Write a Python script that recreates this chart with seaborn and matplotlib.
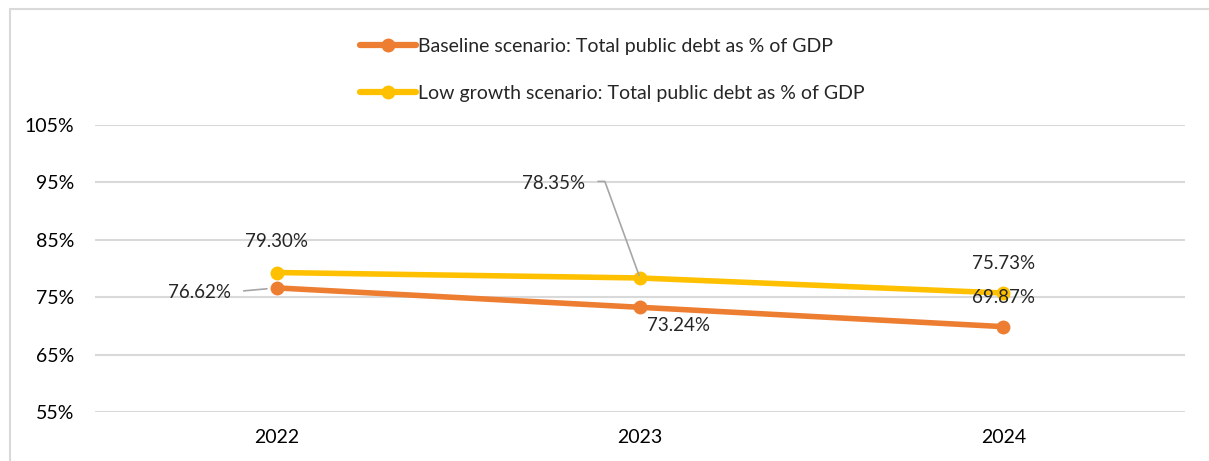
import matplotlib
matplotlib.use("Agg")
import matplotlib.pyplot as plt
import seaborn as sns
import pandas as pd
from matplotlib.lines import Line2D

years = ["2022", "2023", "2024"]
baseline = [76.62, 73.24, 69.87]
low_growth = [79.30, 78.35, 75.73]
series_names = ["Baseline scenario: Total public debt as % of GDP",
                "Low growth scenario: Total public debt as % of GDP"]
yticks = [55, 65, 75, 85, 95, 105]

colors = ["#ED7D31", "#FFC000"]

df = pd.DataFrame({
    "year": years * 2,
    "value": baseline + low_growth,
    "series": [series_names[0]] * 3 + [series_names[1]] * 3,
})
df["x"] = [years.index(y) for y in df["year"]]

sns.set_theme(style="white")
plt.rcParams["font.family"] = ["Lato", "DejaVu Sans"]

fig = plt.figure(figsize=(12.09, 4.61), dpi=100)
ax = fig.add_axes([95 / 1209, 1 - 412 / 461, 1090 / 1209, 287 / 461])

# border of chart area (left and top only visible)
fig.add_artist(Line2D([10 / 1209, 10 / 1209], [0, 1 - 9 / 461], transform=fig.transFigure,
                      color="#D9D9D9", lw=1.5))
fig.add_artist(Line2D([10 / 1209, 1], [1 - 9 / 461, 1 - 9 / 461], transform=fig.transFigure,
                      color="#D9D9D9", lw=1.5))

sns.lineplot(data=df, x="x", y="value", hue="series", hue_order=series_names,
             palette=colors, marker="o", markersize=10, markeredgewidth=0,
             linewidth=4, ax=ax, legend=False, zorder=3)

ax.set_xlim(-0.5, 2.5)
ax.set_ylim(55, 105)
ax.set_yticks(yticks)
ax.set_yticklabels([f"{v}%" for v in yticks])
ax.set_xticks(range(len(years)))
ax.set_xticklabels(years)
ax.set_xlabel("")
ax.set_ylabel("")
ax.grid(axis="y", color="#D9D9D9", linewidth=1.5)
ax.set_axisbelow(True)
for s in ax.spines.values():
    s.set_visible(False)
ax.tick_params(axis="both", length=0, labelsize=14, colors="#000000")
ax.tick_params(axis="y", pad=15)
ax.tick_params(axis="x", pad=12)

fs = 13.5
# data labels
ax.annotate(f"{low_growth[0]:.2f}%", (0, low_growth[0]), xytext=(0, 31),
            textcoords="offset pixels", ha="center", va="center", fontsize=fs)
ax.annotate(f"{low_growth[2]:.2f}%", (2, low_growth[2]), xytext=(0, 30),
            textcoords="offset pixels", ha="center", va="center", fontsize=fs)
ax.annotate(f"{baseline[1]:.2f}%", (1, baseline[1]), xytext=(39, -18),
            textcoords="offset pixels", ha="center", va="center", fontsize=fs)
ax.annotate(f"{baseline[2]:.2f}%", (2, baseline[2]), xytext=(0, 29),
            textcoords="offset pixels", ha="center", va="center", fontsize=fs, zorder=5)
# leader-line labels
ax.annotate(f"{baseline[0]:.2f}%", (0, baseline[0]), xytext=(-46, -5),
            textcoords="offset pixels", ha="right", va="center", fontsize=fs,
            arrowprops=dict(arrowstyle="-", color="#A6A6A6", lw=1.2, relpos=(1, 0.55),
                            connectionstyle="arc3,rad=0",
                            shrinkA=7, shrinkB=7))
ax.annotate(f"{low_growth[1]:.2f}%", (1, low_growth[1]), xytext=(-55, 94),
            textcoords="offset pixels", ha="right", va="center", fontsize=fs,
            arrowprops=dict(arrowstyle="-", color="#A6A6A6", lw=1.2, relpos=(1, 0.65),
                            connectionstyle="angle,angleA=0,angleB=110,rad=0",
                            shrinkA=7, shrinkB=2))

# legend
handles = [Line2D([0], [0], color=c, lw=4.5, marker="o", markersize=10, markeredgewidth=0)
           for c in colors]
fig.legend(handles, series_names, loc="upper left",
           bbox_to_anchor=(350 / 1209, 1 - 28 / 461), frameon=False, fontsize=14,
           handlelength=2.9, handletextpad=0.1, labelspacing=1.55, borderpad=0)

fig.savefig("out.png", dpi=100)
